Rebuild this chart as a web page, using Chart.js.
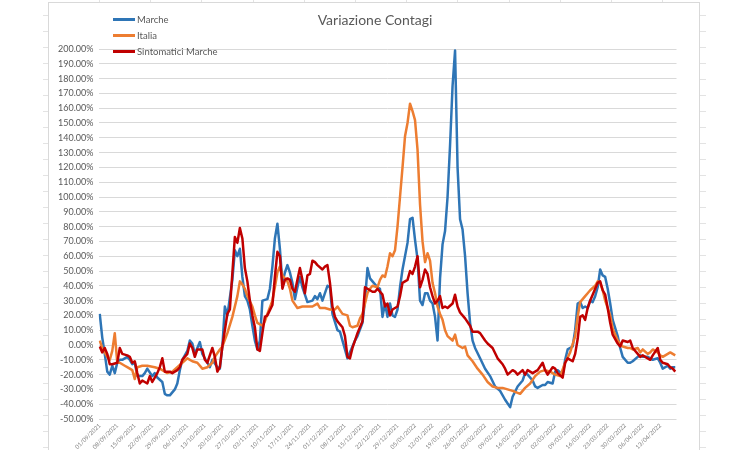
<!DOCTYPE html>
<html>
<head>
<meta charset="utf-8">
<title>Variazione Contagi</title>
<script src="https://cdn.jsdelivr.net/npm/chart.js@4.4.1/dist/chart.umd.min.js"></script>
<style>
    body { margin: 0; background: #fff; }
    #wrap { position: relative; width: 750px; height: 450px; overflow: hidden; font-family: Lato, "Liberation Sans", sans-serif; }
    #wrap canvas { position: absolute; left: 0; top: 0; }
    .frame { position: absolute; left: 48px; top: 2px; width: 650px; height: 470px; border: 1px solid #d9d9d9; }
    .rows-left { position: absolute; left: 43px; top: 0; width: 5px; height: 450px;
        background: repeating-linear-gradient(to bottom, transparent 0 15px, #e3e3e3 15px 16px); }
    .rows-right { position: absolute; left: 700px; top: 0; width: 6px; height: 450px;
        background: repeating-linear-gradient(to bottom, transparent 0 15px, #e3e3e3 15px 16px); }
    .cols-top { position: absolute; left: 99px; top: 0; width: 600px; height: 2px;
        background: repeating-linear-gradient(to right, #e3e3e3 0 1px, transparent 1px 51.2px); }
    #title { position: absolute; left: 0; top: 11px; width: 750px; text-align: center; font-size: 14px; line-height: 18px; color: #595959; }
    .item { position: absolute; left: 113px; height: 14px; display: flex; align-items: center; font-size: 9.5px; color: #595959; }
    .item .sw { display: inline-block; width: 22px; height: 3px; margin-right: 2px; }
</style>
</head>
<body>
<div id="wrap">
    <div class="rows-left"></div>
    <div class="rows-right"></div>
    <div class="cols-top"></div>
    <div class="frame"></div>
    <canvas id="chart" width="750" height="450"></canvas>
    <div id="title">Variazione Contagi</div>
    <div class="item" style="top:12px"><span class="sw" style="background:#2E75B6"></span>Marche</div>
    <div class="item" style="top:28px"><span class="sw" style="background:#ED7D31"></span>Italia</div>
    <div class="item" style="top:44.5px"><span class="sw" style="background:#C00000"></span>Sintomatici Marche</div>
</div>
<script>
// days counted from 01/09/2021
const tickLabels = [
    "01/09/2021", "08/09/2021", "15/09/2021", "22/09/2021", "29/09/2021", "06/10/2021", "13/10/2021",
    "20/10/2021", "27/10/2021", "03/11/2021", "10/11/2021", "17/11/2021", "24/11/2021", "01/12/2021",
    "08/12/2021", "15/12/2021", "22/12/2021", "29/12/2021", "05/01/2022", "12/01/2022", "19/01/2022",
    "26/01/2022", "02/02/2022", "09/02/2022", "16/02/2022", "23/02/2022", "02/03/2022", "09/03/2022",
    "16/03/2022", "23/03/2022", "30/03/2022", "06/04/2022", "13/04/2022"
];
const tickDays = tickLabels.map((_, i) => i * 7);

const marcheDays = [0, 1, 2, 3, 4, 5, 6, 7, 8, 9, 11, 12, 13, 14, 15, 17, 18, 19, 21, 22, 23, 25, 26, 27, 28, 30, 31, 32, 33, 35, 36, 37, 38, 39, 40, 41, 43, 44, 45, 47, 48, 49, 50, 51, 53, 54, 55, 56, 57, 58, 59, 60, 61, 62, 63, 64, 65, 67, 68, 69, 70, 71, 72, 73, 74, 75, 76, 77, 78, 79, 80, 81, 82, 83, 85, 86, 87, 88, 89, 90, 91, 92, 93, 95, 96, 97, 98, 99, 101, 102, 103, 105, 106, 107, 108, 109, 111, 112, 113, 114, 115, 116, 117, 118, 119, 120, 121, 123, 124, 125, 126, 127, 128, 129, 130, 131, 132, 133, 134, 135, 136, 137, 138, 139, 140, 141, 142, 143, 144, 145, 146, 147, 148, 149, 150, 152, 154, 156, 158, 160, 162, 164, 165, 167, 169, 170, 171, 173, 174, 175, 177, 178, 179, 181, 182, 183, 185, 186, 187, 189, 190, 191, 192, 193, 194, 195, 196, 197, 198, 199, 200, 201, 202, 203, 204, 205, 207, 208, 209, 211, 212, 213, 215, 216, 217, 219, 220, 221, 223, 224, 225, 227, 228, 229, 230];
const marcheValues = [21, 5, -6, -18, -20, -14, -19, -12, -10, -10, -8, -10, -13, -12, -21, -21, -19, -16, -21, -19, -22, -25, -33, -34, -34, -30, -26, -17, -10, -4, 3, 1, -6, -2, 2, -6, -12, -15, -10, -15, -16, -1, 26, 20, 44, 64, 60, 65, 46, 33, 30, 24, 13, 3, -3, 3, 30, 31, 38, 53, 72, 82, 65, 42, 49, 54, 49, 42, 31, 39, 46, 39, 34, 29, 30, 33, 31, 35, 30, 35, 40, 39, 21, 10, 9, 3, -3, -9, -1, 3, 6, 15, 30, 52, 45, 43, 39, 38, 19, 28, 19, 28, 20, 19, 24, 39, 51, 69, 85, 86, 71, 58, 30, 27, 35, 35, 30, 28, 19, 3, 45, 68, 77, 100, 135, 175, 199, 120, 85, 78, 60, 35, 15, 3, -2, -9, -16, -21, -28, -31, -37, -42, -35, -28, -24, -19, -20, -24, -28, -29, -27, -27, -25, -26, -18, -17, -20, -10, -3, -1, 10, 28, 29, 25, 26, 25, 30, 29, 33, 39, 51, 47, 46, 38, 28, 17, 6, -2, -8, -12, -12, -11, -8, -7, -8, -8, -9, -10, -9, -12, -16, -14, -16, -15, -15];

const italiaDays = [0, 1, 3, 4, 5, 6, 7, 8, 10, 11, 13, 14, 15, 17, 19, 22, 24, 25, 27, 29, 31, 33, 35, 37, 39, 41, 43, 45, 46, 48, 49, 51, 53, 55, 56, 57, 58, 59, 61, 62, 63, 65, 66, 67, 69, 70, 71, 72, 73, 75, 76, 77, 79, 81, 83, 85, 87, 88, 90, 92, 94, 95, 97, 99, 100, 101, 103, 104, 105, 107, 108, 109, 111, 112, 113, 114, 115, 116, 117, 118, 119, 120, 121, 122, 123, 124, 125, 126, 127, 128, 129, 130, 131, 132, 133, 134, 135, 136, 137, 138, 139, 141, 142, 143, 145, 146, 147, 149, 151, 153, 155, 157, 159, 161, 163, 165, 168, 170, 172, 174, 176, 178, 180, 182, 184, 186, 188, 190, 191, 192, 194, 195, 196, 198, 199, 200, 201, 202, 204, 205, 207, 208, 209, 211, 212, 213, 215, 216, 217, 219, 220, 221, 223, 224, 225, 227, 228, 229, 230];
const italiaValues = [3, -2, -8, -10, -4, 8, -12, -12, -14, -15, -17, -23, -15, -14, -14, -15, -16, -17, -19, -18, -15, -12, -9, -11, -12, -16, -15, -12, -8, -3, -1, 8, 19, 33, 43, 41, 38, 33, 26, 20, 15, 13, 16, 21, 30, 39, 49, 53, 47, 43, 38, 30, 25, 26, 26, 26, 28, 25, 25, 24, 24, 26, 21, 20, 13, 12, 13, 18, 21, 35, 38, 40, 39, 44, 47, 46, 53, 62, 60, 64, 80, 100, 120, 141, 150, 163, 158, 152, 132, 95, 70, 56, 62, 57, 42, 35, 26, 21, 17, 10, 6, 3, 7, 0, -2, -1, -7, -11, -16, -20, -25, -28, -29, -29, -30, -31, -33, -29, -26, -21, -18, -17, -18, -20, -21, -12, -5, 6, 19, 29, 33, 35, 37, 40, 43, 42, 37, 30, 20, 11, 3, 1, -1, -2, -2, -3, -2, -5, -3, -6, -5, -3, -5, -7, -8, -6, -5, -6, -7];

const sintomaticiDays = [0, 1, 2, 3, 4, 5, 7, 8, 9, 11, 12, 13, 14, 15, 16, 17, 19, 20, 21, 23, 24, 25, 26, 28, 29, 31, 32, 33, 35, 36, 37, 38, 39, 41, 42, 43, 45, 46, 47, 48, 49, 51, 52, 54, 55, 56, 57, 58, 59, 60, 61, 62, 63, 64, 65, 66, 67, 69, 70, 71, 72, 73, 74, 75, 76, 77, 78, 79, 80, 81, 82, 83, 84, 85, 86, 87, 89, 90, 91, 92, 93, 94, 95, 97, 98, 99, 100, 101, 102, 103, 105, 106, 107, 109, 110, 111, 113, 114, 115, 116, 117, 119, 120, 121, 123, 124, 125, 126, 127, 128, 129, 130, 131, 132, 133, 134, 135, 136, 137, 138, 139, 141, 142, 143, 144, 146, 148, 149, 151, 152, 154, 155, 157, 159, 161, 162, 163, 165, 166, 167, 169, 170, 171, 173, 174, 175, 177, 178, 179, 181, 182, 183, 185, 186, 187, 189, 190, 191, 192, 193, 194, 195, 196, 197, 199, 200, 201, 202, 203, 204, 205, 207, 208, 209, 211, 212, 213, 215, 216, 217, 219, 220, 221, 223, 224, 225, 227, 228, 229, 230];
const sintomaticiValues = [-1, -5, -2, -6, -13, -13, -12, -2, -6, -7, -8, -12, -11, -19, -26, -24, -26, -21, -25, -19, -15, -9, -18, -18, -19, -17, -15, -10, -6, 1, -2, -8, -3, -3, -10, -12, -2, -8, -18, -15, -1, 21, 24, 73, 69, 79, 72, 52, 43, 30, 20, 12, -3, -4, 8, 19, 20, 27, 46, 63, 60, 38, 44, 45, 44, 38, 36, 44, 52, 44, 35, 47, 48, 57, 56, 54, 51, 53, 54, 42, 26, 19, 16, 12, 6, -8, -9, -2, 3, 8, 16, 39, 38, 36, 36, 38, 34, 26, 28, 20, 24, 26, 33, 42, 44, 50, 48, 53, 60, 39, 44, 51, 48, 39, 33, 28, 30, 33, 25, 26, 25, 28, 34, 26, 22, 18, 13, 9, 9, 8, 3, 1, -2, -9, -13, -16, -20, -17, -18, -20, -17, -20, -17, -19, -18, -17, -12, -17, -20, -15, -16, -19, -22, -12, -9, -11, -6, 4, 19, 20, 17, 25, 30, 34, 42, 43, 37, 34, 25, 15, 7, 1, -1, 3, 2, 3, -2, -6, -8, -7, -9, -10, -7, -2, -10, -12, -13, -15, -16, -18];

const fontFamily = "Lato, 'Liberation Sans', sans-serif";

function toPoints(days, values) {
    return days.map((d, i) => ({ x: d, y: values[i] }));
}

const ctx = document.getElementById("chart");
new Chart(ctx, {
    type: "line",
    data: {
        datasets: [
            { label: "Marche", data: toPoints(marcheDays, marcheValues), borderColor: "#2E75B6", order: 2 },
            { label: "Italia", data: toPoints(italiaDays, italiaValues), borderColor: "#ED7D31", order: 1 },
            { label: "Sintomatici Marche", data: toPoints(sintomaticiDays, sintomaticiValues), borderColor: "#C00000", order: 0 },
        ],
    },
    options: {
        responsive: false,
        animation: false,
        layout: { padding: { left: 48, right: 73.5, top: 49, bottom: 0 } },
        elements: {
            line: { borderWidth: 2.5, tension: 0, borderJoinStyle: "round" },
            point: { radius: 0 },
        },
        plugins: {
            legend: { display: false },
            title: { display: false },
            tooltip: { enabled: false },
        },
        scales: {
            x: {
                type: "linear",
                min: -0.5,
                max: 230.5,
                afterBuildTicks: (scale) => { scale.ticks = tickDays.map((v) => ({ value: v })); },
                afterFit: (scale) => { scale.height = 31; },
                grid: { display: false, drawTicks: false },
                border: { display: false },
                ticks: {
                    autoSkip: false,
                    minRotation: 45,
                    maxRotation: 45,
                    padding: 3,
                    color: "#7f7f7f",
                    font: { size: 6, family: fontFamily },
                    callback: (v) => tickLabels[Math.round(v / 7)],
                },
            },
            y: {
                min: -50,
                max: 200,
                afterFit: (scale) => { scale.width = 50.5; },
                grid: { color: "#d9d9d9", drawTicks: false },
                border: { display: false },
                ticks: {
                    stepSize: 10,
                    autoSkip: false,
                    padding: 5,
                    color: "#595959",
                    font: { size: 9, family: fontFamily },
                    callback: (v) => v.toFixed(2) + "%",
                },
            },
        },
    },
});
</script>
</body>
</html>
